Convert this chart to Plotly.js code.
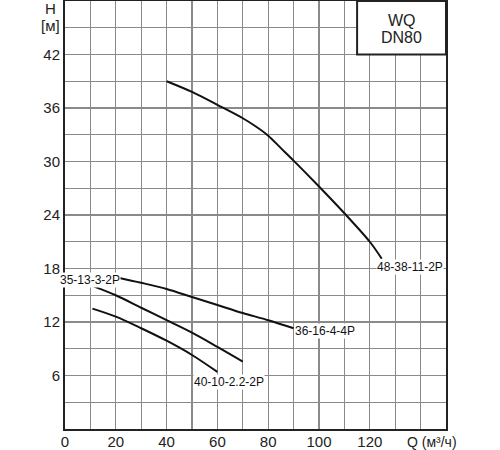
<!DOCTYPE html>
<html>
<head>
<meta charset="utf-8">
<script src="https://cdn.plot.ly/plotly-3.0.1.min.js"></script>
<style>html,body{margin:0;padding:0;background:#fff;}#chart{width:500px;height:450px;}</style>
</head>
<body>
<div id="chart"></div>
<script>
// Curve 48-38-11-2P
const q48 = [40, 50, 60, 70, 75, 80, 85, 90, 100, 110, 120, 124.7];
const h48 = [39.0, 37.8, 36.35, 34.85, 33.95, 32.9, 31.5, 30.1, 27.2, 24.2, 21.0, 19.1];
// Curve 36-16-4-4P
const q36 = [20.5, 30, 40, 50, 60, 70, 80, 90];
const h36 = [17.0, 16.4, 15.7, 14.8, 13.9, 13.0, 12.2, 11.3];
// Curve 35-13-3-2P
const q35 = [11.3, 20, 30, 40, 50, 60, 70];
const h35 = [16.0, 15.0, 13.6, 12.2, 10.8, 9.2, 7.55];
// Curve 40-10-2.2-2P
const q40 = [10.8, 20, 30, 40, 50, 60];
const h40 = [13.5, 12.6, 11.3, 9.9, 8.3, 6.4];

const curveNames = ['48-38-11-2P', '36-16-4-4P', '35-13-3-2P', '40-10-2.2-2P'];

const xTickVals = [0, 10, 20, 30, 40, 50, 60, 70, 80, 90, 100, 110, 120, 130, 140, 150];
const xTickText = ['0', '', '20', '', '40', '', '60', '', '80', '', '100', '', '120', '', '', ''];
const yTickVals = [0, 3, 6, 9, 12, 15, 18, 21, 24, 27, 30, 33, 36, 39, 42, 45, 48];
const yTickText = ['', '', '6', '', '12', '', '18', '', '24', '', '30', '', '36', '', '42', '', ''];

const lineStyle = {color: '#111', width: 2, shape: 'spline', smoothing: 0.9};
const traces = [
  {x: q48, y: h48, name: curveNames[0]},
  {x: q36, y: h36, name: curveNames[1]},
  {x: q35, y: h35, name: curveNames[2]},
  {x: q40, y: h40, name: curveNames[3]}
].map(t => Object.assign(t, {type: 'scatter', mode: 'lines', line: lineStyle, hoverinfo: 'skip'}));

const labelFont = {family: 'Liberation Sans, Arial, sans-serif', size: 12, color: '#111'};
function lab(text, x, y) {
  return {text: text, x: x, y: y, xref: 'x', yref: 'y', showarrow: false,
          font: labelFont, bgcolor: '#fff', borderpad: 0, xanchor: 'center', yanchor: 'middle'};
}
const axisFont = {family: 'Liberation Sans, Arial, sans-serif', size: 15, color: '#222'};
function paperLab(text, x, y, size) {
  return {text: text, x: x, y: y, xref: 'paper', yref: 'paper', showarrow: false,
          font: Object.assign({}, axisFont, {size: size}), xanchor: 'center', yanchor: 'middle'};
}

const layout = {
  width: 500, height: 450,
  margin: {l: 65, r: 54, t: 1, b: 21},
  paper_bgcolor: '#fff', plot_bgcolor: '#fff',
  showlegend: false,
  xaxis: {
    range: [0, 150], tickvals: xTickVals, ticktext: xTickText,
    showgrid: true, gridcolor: '#8a8a8a', gridwidth: 1.3,
    showline: true, linecolor: '#222', linewidth: 2, mirror: true,
    ticks: '', zeroline: false, tickfont: axisFont, fixedrange: true,
    ticklabelstandoff: -2
  },
  yaxis: {
    range: [0, 48], tickvals: yTickVals, ticktext: yTickText,
    showgrid: true, gridcolor: '#8a8a8a', gridwidth: 1.3,
    showline: true, linecolor: '#222', linewidth: 2, mirror: true,
    ticks: '', zeroline: false, tickfont: axisFont, fixedrange: true
  },
  shapes: [
    {type: 'rect', xref: 'x', yref: 'y', x0: 115, x1: 150, y0: 42, y1: 48,
     fillcolor: '#fff', line: {color: '#222', width: 2}, layer: 'above'}
  ],
  annotations: [
    lab(curveNames[0], 135.8, 18.2),
    lab(curveNames[1], 102.4, 11.0),
    lab(curveNames[2], 9.8, 16.7),
    lab(curveNames[3], 64.6, 5.3),
    {text: 'WQ', x: 132.5, y: 45.8, xref: 'x', yref: 'y', showarrow: false,
     font: {family: 'Liberation Sans, Arial, sans-serif', size: 16, color: '#222'}},
    {text: 'DN80', x: 132.5, y: 43.9, xref: 'x', yref: 'y', showarrow: false,
     font: {family: 'Liberation Sans, Arial, sans-serif', size: 16, color: '#222'}},
    paperLab('H', -0.039, 0.983, 15),
    paperLab('[м]', -0.039, 0.9416, 15),
    paperLab('Q (м³/ч)', 0.963, -0.0297, 14)
  ]
};

Plotly.newPlot('chart', traces, layout, {displayModeBar: false, staticPlot: true});
</script>
</body>
</html>
